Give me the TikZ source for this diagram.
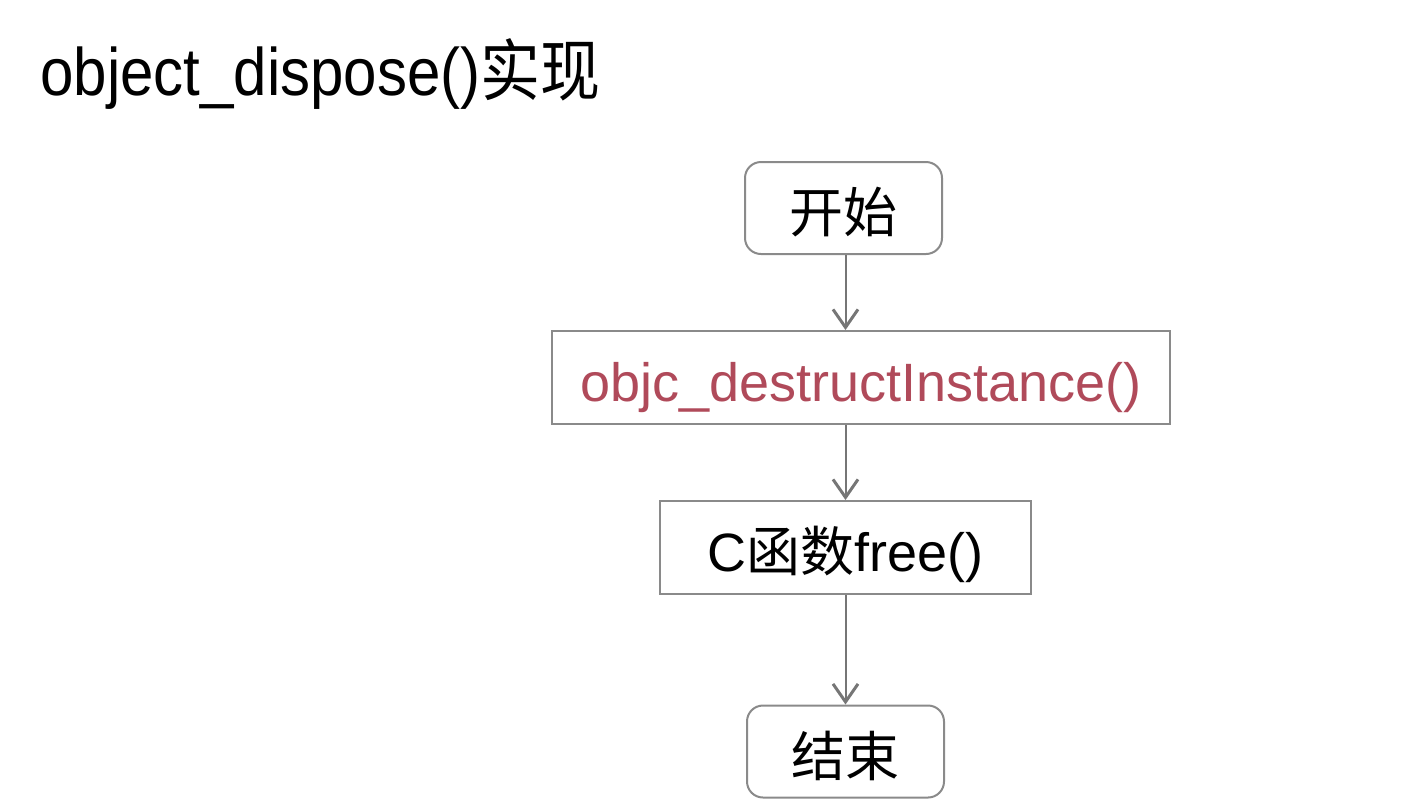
\documentclass[tikz,border=0pt]{standalone}
\usepackage{fontspec}
\usepackage{graphicx}
\setmainfont{Liberation Sans}
\newfontfamily\cjk{Noto Sans CJK SC}
\usetikzlibrary{arrows.meta,positioning}
\definecolor{boxgray}{HTML}{8A8A8A}
\definecolor{arrowgray}{HTML}{767676}
\definecolor{funcred}{HTML}{B04A5A}
\begin{document}
\begin{tikzpicture}[x=0.5pt,y=-0.5pt,
    startend/.style={draw=boxgray,line width=1pt,rounded corners=8pt,
      minimum width=98.5pt,minimum height=46pt,inner sep=0pt,
      text height=28pt,text depth=3.4pt,font=\fontsize{27}{30}\selectfont\cjk},
    procbox/.style={draw=boxgray,line width=1pt,minimum height=46.5pt,inner sep=0pt,
      text height=28pt,text depth=4pt,font=\fontsize{27}{30}\selectfont},
    flow/.style={draw=arrowgray,line width=1pt,
      -{Straight Barb[length=9pt,width=12.5pt,line width=1.5pt]}}]

    \useasboundingbox (0,0) rectangle (1428,810);

    % title
    \node[anchor=base west,inner sep=0pt,font=\fontsize{30}{34}\selectfont] (title) at (40,95)
      {\scalebox{1}[1.12]{object\_dispose()\cjk 实现}};

    % flow chart
    \node[startend] (start) at (843.5,208) {开始};
    \node[procbox,minimum width=309pt,text=funcred] (destr) at (861,377.5) {objc\_destructInstance()};
    \node[procbox,minimum width=185.5pt] (free) at (845.5,547.5) {C{\cjk 函数}free()};
    \node[startend] (stop) at (845.5,751.5) {结束};

    \draw[flow] (start.south -| free) -- (destr.north -| free);
    \draw[flow] (destr.south -| free) -- (free.north);
    \draw[flow] (free.south) -- (stop.north -| free);

  \end{tikzpicture}
\end{document}
